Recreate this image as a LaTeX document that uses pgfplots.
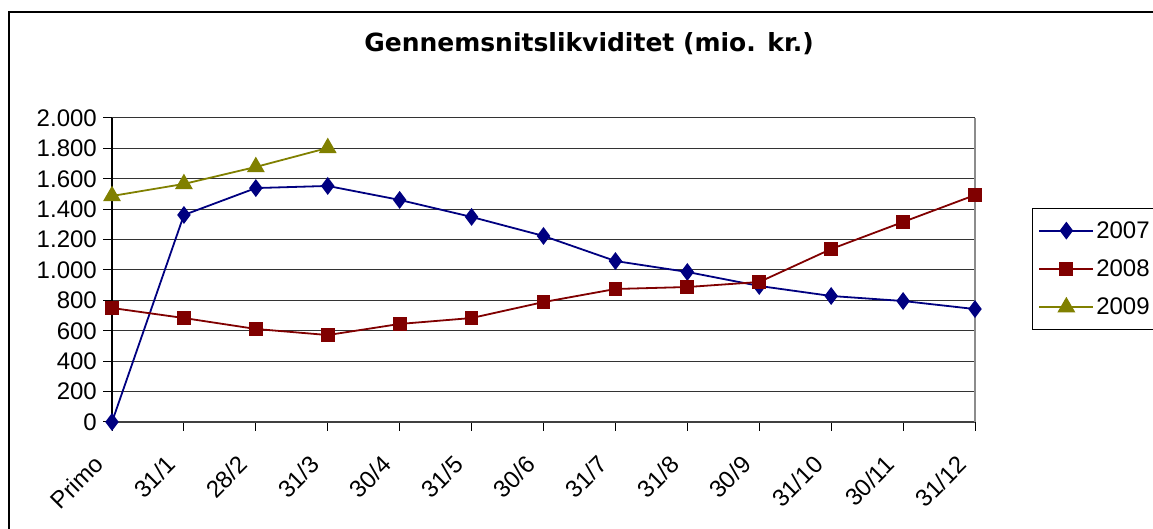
\documentclass[border=0pt]{standalone}
\usepackage{pgfplots}
\pgfplotsset{compat=1.18}
\usepackage{fontspec}
\setmainfont{Liberation Sans}
\newfontfamily\titlefont{DejaVu Sans}
\definecolor{c7}{HTML}{000080}
\definecolor{c8}{HTML}{800000}
\definecolor{c9}{HTML}{808000}
\begin{document}
\begin{tikzpicture}
\useasboundingbox (0pt,0pt) rectangle (1153pt,529pt);
\draw[line width=1.5pt] (9pt,-20pt) -- (9pt,517pt) -- (1170pt,517pt);
\node[font=\titlefont\fontsize{25}{30}\selectfont\bfseries, anchor=base] at (589pt,477pt) {Gennemsnitslikviditet (mio. kr.)};
\begin{axis}[
  at={(112pt,107pt)}, anchor=south west,
  width=863pt, height=304pt, scale only axis,
  xmin=0, xmax=12, ymin=0, ymax=2000,
  axis lines=left, axis line style={-},
  x axis line style={black!75, line width=1.8pt},
  y axis line style={black, line width=1.3pt},
  xtick={0,...,12},
  xticklabels={Primo,31/1,28/2,31/3,30/4,31/5,30/6,31/7,31/8,30/9,31/10,30/11,31/12},
  ytick={0,200,...,2000},
  ymajorgrids, grid style={black!80, line width=1pt},
  tick align=outside, major tick length=9pt,
  tick style={black, line width=1pt},
  scaled y ticks=false,
  /pgf/number format/.cd, 1000 sep={.}, assume math mode=true, /pgfplots/.cd,
  ticklabel style={font=\fontsize{24}{28}\selectfont},
  xticklabel style={xshift=-19pt, yshift=-20pt, rotate=45, anchor=north east, inner sep=2pt},
  yticklabel style={inner sep=6pt},
  clip=false,
  legend style={at={(1.066,0.704)}, anchor=north west, draw=black, line width=1pt,
    font=\fontsize{24}{28}\selectfont, inner xsep=6pt, inner ysep=11pt, row sep=16pt},
  legend cell align=left,
  legend image code/.code={\draw[mark repeat=2,mark phase=2,#1] plot coordinates {(0pt,0pt)(27pt,0pt)(54pt,0pt)};},
]
\draw[black!45, line width=1.5pt] (rel axis cs:1,0) -- (rel axis cs:1,1);
\addplot[c7, line width=1.8pt, mark=diamond*, mark size=7.5pt] coordinates {
(0,0)(1,1362)(2,1539)(3,1553)(4,1461)(5,1349)(6,1224)(7,1059)(8,987)(9,895)(10,829)(11,796)(12,743)};
\addlegendentry{2007}
\addplot[c8, line width=1.8pt, mark=square*, mark size=6pt] coordinates {
(0,750)(1,684)(2,612)(3,572)(4,645)(5,684)(6,789)(7,875)(8,888)(9,921)(10,1138)(11,1316)(12,1493)};
\addlegendentry{2008}
\addplot[c9, line width=1.8pt, mark=triangle*, mark size=8.5pt] coordinates {
(0,1487)(1,1566)(2,1678)(3,1803)};
\addlegendentry{2009}
\end{axis}
\end{tikzpicture}
\end{document}
